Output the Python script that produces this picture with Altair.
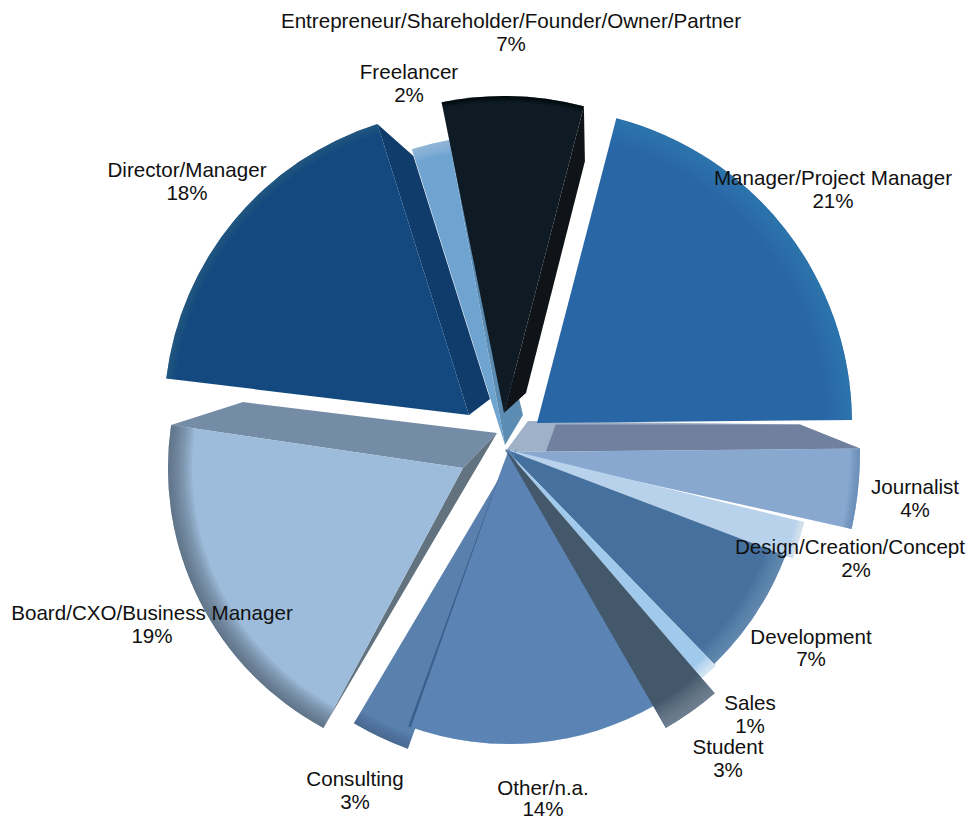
import math
import altair as alt
import pandas as pd

W, H, M = 958, 811, 8
names = ["Manager/Project Manager", "Journalist", "Design/Creation/Concept", "Development", "Sales",
         "Student", "Other/n.a.", "Consulting", "Board/CXO/Business Manager", "Director/Manager",
         "Freelancer", "Entrepreneur/Shareholder/Founder/Owner/Partner"]
percent = [21, 4, 2, 7, 1, 3, 14, 3, 19, 18, 2, 7]
colors = ["#2866a5", "#88a8d0", "#b8d2ec", "#46719f", "#a1c9ec", "#44586b",
          "#5b84b5", "#5a80ae", "#9dbcdb", "#14497f", "#6fa3d0", "#0e1b25"]
start_angle = 14.6

# exploded layout of each slice: apex x, apex y, radius (picture pixels)
apex_x = [537, 505, 505, 505, 505, 505, 509, 517, 463, 469, 505, 504]
apex_y = [423, 452, 449, 449, 449, 449, 449, 448, 468, 415, 445, 413]
radius = [315, 355, 308, 300, 302, 322, 295, 320, 295, 305, 310, 317]
# perspective trim of the drawn angle, degrees
trim_start = [0, 0, 0, 0, 0, 0, 0, 0, -2.4, -1.5, 0, -1]
trim_end = [0, -1.2, 0, 0, 0, 0, 0, 0, 0, 0, 0, 0]
# shaded rim: width, colour, strength
rim_w = [26, 10, 8, 20, 14, 25, 18, 15, 24, 10, 14, 6]
rim_c = ["#6a9ad0", "#5c7ca8", "#ffffff", "#9ab8d6", "#ffffff", "#93a3b0",
         "#8aa9cc", "#35527a", "#46566a", "#5d86ae", "#ffffff", "#000000"]
rim_s = [0.3, 0.5, 0.5, 0.35, 0.6, 0.6, 0.3, 0.4, 0.65, 0.25, 0.3, 0.5]
draw_order = [1, 2, 3, 4, 7, 6, 5, 8, 9, 10, 11, 0]

# label anchors (centre x, first line y, second line y)
label_x = [833, 915, 850, 811, 750, 728, 543, 355, 152, 187, 409, 511]
label_y1 = [179, 488, 548, 638, 704, 748, 789, 780, 614, 171, 73, 22]
label_y2 = [202, 511, 571, 660, 727, 771, 810, 803, 637, 194, 96, 45]

# walls: slice, edge, fraction along the edge, apex shift x,y, corner shift x,y, colour
walls = [
    (1, "start", 0.00, 23, -31, -60, -24, "#9fb1c7"),
    (1, "start", 0.115, 10, -27, -60, -24, "#70809e"),
    (8, "end", 0.0, 34, -35, 72, -23, "#758ca6"),
    (8, "start", 0.0, 34, -35, 0, 0, "#62737f"),
    (9, "end", 0.0, 21, -16, 36, 32, "#103c6c"),
    (10, "end", 0.0, 18, -30, 10, 14, "#5d8cb2"),
    (11, "end", 0.0, 22, -20, 1, 55, "#101317"),
]
other_edge_colour = "#3b5f8c"

total = sum(percent)
th1, th2 = [], []
a = start_angle
for i, p in enumerate(percent):
    th1.append(a + trim_start[i])
    a += p / total * 360
    th2.append(a + trim_end[i])


def corner(i, edge):
    t = math.radians(th1[i] if edge == "start" else th2[i])
    return apex_x[i] + radius[i] * math.sin(t), apex_y[i] - radius[i] * math.cos(t)


features = []
for i, edge, f, ax, ay, cx, cy, col in walls:
    kx, ky = corner(i, edge)
    px = apex_x[i] + (kx - apex_x[i]) * f
    py = apex_y[i] + (ky - apex_y[i]) * f
    ring = [(px, py), (kx, ky), (kx + cx, ky + cy), (px + ax, py + ay), (px, py)]
    features.append({
        "type": "Feature",
        "properties": {"fill": col},
        "geometry": {"type": "Polygon", "coordinates": [[[x - M, y - M] for x, y in ring]]},
    })

rows = []
N = 14
for i in draw_order:
    base = dict(x=apex_x[i], y=apex_y[i], t1=math.radians(th1[i]), t2=math.radians(th2[i]))
    rows.append({**base, "r": radius[i], "r0": 0, "fill": colors[i], "op": 1.0})
    each = 1 - (1 - rim_s[i]) ** (1 / N)
    for k in range(1, N + 1):
        rows.append({**base, "r": radius[i], "r0": radius[i] - rim_w[i] * k / N, "fill": rim_c[i], "op": each})
    if i == 6:
        rows.append({**base, "t1": math.radians(th2[i] - 0.5), "r": radius[i], "r0": 0,
                     "fill": other_edge_colour, "op": 1.0})
arcs = pd.DataFrame(rows)

texts = pd.DataFrame(
    [dict(x=label_x[i], y=label_y1[i], t=names[i]) for i in range(12)]
    + [dict(x=label_x[i] + (6 if i == 2 else 0), y=label_y2[i], t=f"{percent[i]}%") for i in range(12)]
)

xs = alt.Scale(domain=[M, M + W], range=[0, W])
ys = alt.Scale(domain=[M, M + H], range=[0, H])

wall_layer = alt.Chart(alt.Data(values=features)).mark_geoshape(strokeWidth=0).encode(
    color=alt.Color("properties.fill:N", scale=None, legend=None)
).project(type="identity", scale=1, translate=[0, 0])

arc_layer = alt.Chart(arcs).mark_arc().encode(
    x=alt.X("x:Q", scale=xs, axis=None),
    y=alt.Y("y:Q", scale=ys, axis=None),
    theta=alt.Theta("t1:Q", scale=None),
    theta2=alt.Theta2("t2:Q"),
    radius=alt.Radius("r:Q", scale=None),
    radius2=alt.Radius2("r0:Q"),
    color=alt.Color("fill:N", scale=None, legend=None),
    opacity=alt.Opacity("op:Q", scale=None, legend=None),
)

text_layer = alt.Chart(texts).mark_text(
    font="Liberation Sans", fontSize=20.6, color="#111111", align="center", baseline="middle"
).encode(
    x=alt.X("x:Q", scale=xs, axis=None),
    y=alt.Y("y:Q", scale=ys, axis=None),
    text="t:N",
)

chart = alt.layer(wall_layer, arc_layer, text_layer).resolve_scale(color="independent").properties(
    width=W, height=H, padding=0, autosize=alt.AutoSizeParams(type="none"),
    background="white",
).configure_view(stroke=None)

chart.save("out.html", embed_options={"renderer": "svg", "actions": False})
